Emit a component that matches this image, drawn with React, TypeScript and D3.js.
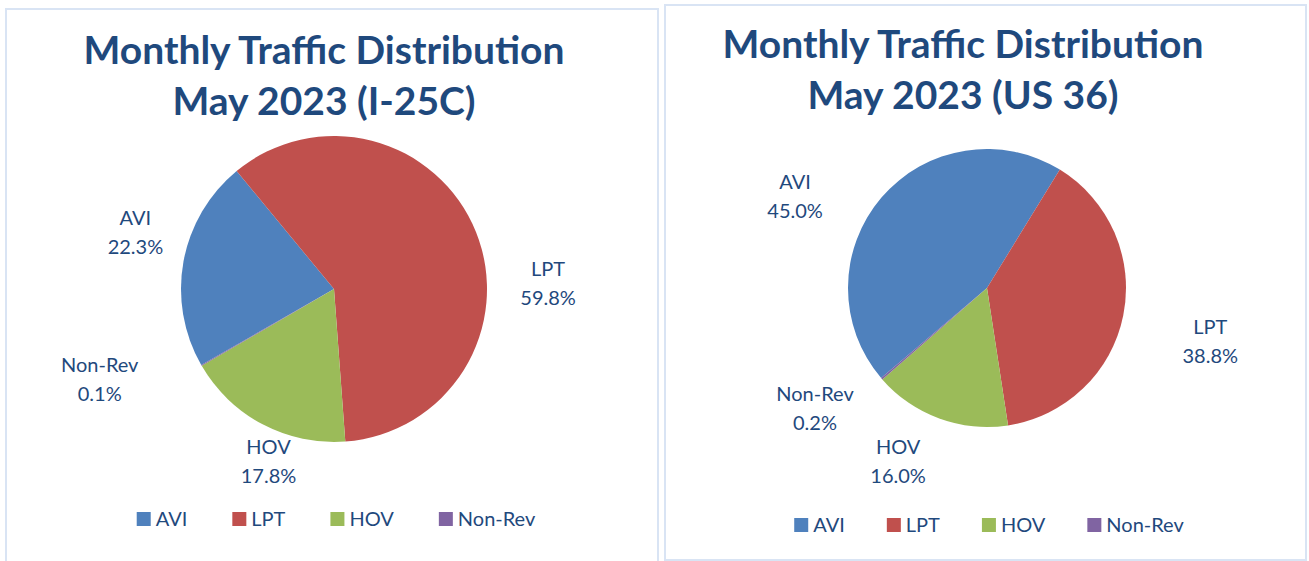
import React, { useRef, useEffect } from 'react'
import * as d3 from 'd3'

// categories and colours shared by both pies
const categories = ['AVI', 'LPT', 'HOV', 'Non-Rev']
const colors = ['#4f81bd', '#c0504d', '#9bbb59', '#8064a2']

// I-25C shares (%)
const i25Values = [22.3, 59.8, 17.8, 0.1]
// US 36 shares (%)
const us36Values = [45.0, 38.8, 16.0, 0.2]

const i25Title = ['Monthly Traffic Distribution', 'May 2023 (I-25C)']
const us36Title = ['Monthly Traffic Distribution', 'May 2023 (US 36)']

const W = 1309
const H = 561
const textColor = '#1f497d'
const font = 'Lato, "Open Sans", sans-serif'

// layout of each panel (Excel style: first slice angle, label nudges)
const panels = [
    {
        title: i25Title, values: i25Values,
        box: [6, 9, 652, 570], cx: 334, cy: 289, r: 153, start: 240.2,
        titleX: 324, titleY: 64, legendY: 519, legendGap: 45,
        // label placement: angle shift (deg) from slice middle, radius factor
        labels: [[5.6, 1.35], [20.2, 1.4], [-6.9, 1.2], [9, 1.64]]
    },
    {
        title: us36Title, values: us36Values,
        box: [665, 5, 641, 555], cx: 987, cy: 288, r: 139, start: 229.6,
        titleX: 963, titleY: 58, legendY: 525, legendGap: 42,
        labels: [[-15.1, 1.53], [1.8, 1.65], [7.1, 1.4], [5.8, 1.51]]
    }
]

export default function App() {

    const ref = useRef(null)

    useEffect(() => {
        const svg = d3.select(ref.current)
        svg.selectAll('*').remove()

        panels.forEach(p => {
            const g = svg.append('g')

            g.append('rect')
                .attr('x', p.box[0])
                .attr('y', p.box[1])
                .attr('width', p.box[2])
                .attr('height', p.box[3])
                .attr('fill', '#fff')
                .attr('stroke', '#d9e4f4')
                .attr('stroke-width', 2)

            // title
            g.append('text')
                .attr('x', p.titleX)
                .attr('y', p.titleY)
                .attr('text-anchor', 'middle')
                .style('font-family', font)
                .style('font-weight', 'bold')
                .style('font-size', '39px')
                .style('fill', textColor)
                .selectAll('tspan')
                .data(p.title)
                .enter()
                .append('tspan')
                .attr('x', p.titleX)
                .attr('dy', (d, i) => i === 0 ? 0 : 51)
                .text(d => d)

            const data = categories.map((c, i) => ({ name: c, value: p.values[i], color: colors[i] }))
            const a0 = p.start * Math.PI / 180
            const pie = d3.pie<any>()
                .sort(null)
                .value(d => d.value)
                .startAngle(a0)
                .endAngle(a0 + 2 * Math.PI)
            const arcs = pie(data)
            const arc = d3.arc<any>().innerRadius(0).outerRadius(p.r)

            const pg = g.append('g').attr('transform', `translate(${p.cx},${p.cy})`)
            pg.selectAll('path')
                .data(arcs)
                .enter()
                .append('path')
                .attr('d', arc)
                .attr('fill', d => d.data.color)

            // data labels
            arcs.forEach((d, i) => {
                const [shift, k] = p.labels[i]
                const mid = (d.startAngle + d.endAngle) / 2 + shift * Math.PI / 180
                const lr = p.r * k
                const [lx, ly] = d3.arc<any>().innerRadius(lr).outerRadius(lr)
                    .centroid({ startAngle: mid, endAngle: mid } as any)
                const t = pg.append('text')
                    .attr('text-anchor', 'middle')
                    .style('font-family', font)
                    .style('font-size', '20px')
                    .style('fill', textColor)
                t.append('tspan').attr('x', lx).attr('y', ly - 7).text(d.data.name)
                t.append('tspan').attr('x', lx).attr('y', ly + 22).text(d3.format('.1f')(d.data.value) + '%')
            })

            // legend, centred under the pie
            const lg = g.append('g')
            const items = lg.selectAll('g')
                .data(data)
                .enter()
                .append('g')
            items.append('rect')
                .attr('width', 14)
                .attr('height', 14)
                .attr('y', p.legendY - 7)
                .attr('fill', d => d.color)
            items.append('text')
                .attr('x', 19)
                .attr('y', p.legendY + 7)
                .style('font-family', font)
                .style('font-size', '20px')
                .style('fill', textColor)
                .text(d => d.name)
            let x = 0
            items.each(function () {
                const el = this as SVGGElement
                const w = (el.querySelector('text') as SVGTextElement).getComputedTextLength()
                d3.select(el).attr('transform', `translate(${x},0)`)
                x += 19 + w + p.legendGap
            })
            const total = x - p.legendGap
            lg.attr('transform', `translate(${p.cx - total / 2 + 2},0)`)
        })
    }, [])

    return (
        <div style={{ position: 'absolute', left: 0, top: 0 }}>
            <svg ref={ref} width={W} height={H} style={{ display: 'block', background: '#fff' }}></svg>
        </div>
    )
}
